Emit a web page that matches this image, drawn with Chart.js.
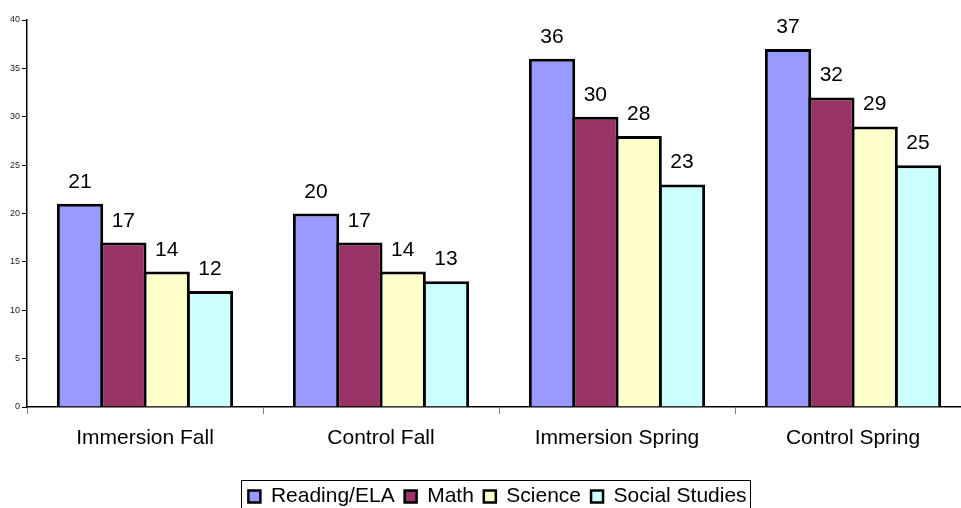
<!DOCTYPE html>
<html>
<head>
<meta charset="utf-8">
<script src="https://cdn.jsdelivr.net/npm/chart.js@4.4.0/dist/chart.umd.min.js"></script>
<style>
html, body { margin: 0; padding: 0; overflow: hidden; background: #fff; }
</style>
</head>
<body>
<canvas id="myChart" width="975" height="517"></canvas>
<script>
let categories = ["Immersion Fall", "Control Fall", "Immersion Spring", "Control Spring"];
let reading = [21, 20, 36, 37];
let math = [17, 17, 30, 32];
let science = [14, 14, 28, 29];
let social = [12, 13, 23, 25];
let yTicks = [0, 5, 10, 15, 20, 25, 30, 35, 40];

const fontFamily = '"Liberation Sans", Arial, sans-serif';
const legendFont = 21, legendPad = 10, legendSwatch = 12;

// numbers above each bar
const valueLabels = {
    id: 'valueLabels',
    afterDatasetsDraw(chart) {
        const ctx = chart.ctx;
        ctx.save();
        ctx.font = '21px ' + fontFamily;
        ctx.fillStyle = '#000';
        ctx.textAlign = 'center';
        ctx.textBaseline = 'alphabetic';
        chart.data.datasets.forEach((ds, i) => {
            chart.getDatasetMeta(i).data.forEach((bar, j) => {
                ctx.fillText(ds.data[j], bar.x, bar.y - 16);
            });
        });
        ctx.restore();
    }
};

// frame round the legend, legend nudged a little to the right
const legendBox = {
    id: 'legendBox',
    afterLayout(chart) {
        chart.legend.left += 12;
        chart.legend.right += 12;
    },
    afterDraw(chart) {
        const lg = chart.legend;
        const ctx = chart.ctx;
        ctx.save();
        ctx.font = legendFont + 'px ' + fontFamily;
        let lineWidth = 0;
        chart.data.datasets.forEach(ds => {
            lineWidth += legendSwatch + legendFont / 2 + ctx.measureText(ds.label).width + legendPad;
        });
        const start = (lg.left + legendPad + lg.right - lineWidth) / 2;
        const itemMid = lg.top + legendPad + legendFont / 2;
        const x1 = Math.round(start - 7) + 0.5;
        const x2 = Math.round(start + lineWidth - legendPad + 3) + 0.5;
        const y1 = Math.round(itemMid - 17) + 0.5;
        ctx.strokeStyle = '#000';
        ctx.lineWidth = 1;
        ctx.strokeRect(x1, y1, x2 - x1, 40);
        ctx.restore();
    }
};

const ctx = document.getElementById('myChart').getContext('2d');
const myChart = new Chart(ctx, {
    type: 'bar',
    data: {
        labels: categories,
        datasets: [
            { label: 'Reading/ELA', data: reading, backgroundColor: '#9999FF' },
            { label: 'Math', data: math, backgroundColor: '#993366' },
            { label: 'Science', data: science, backgroundColor: '#FFFFCC' },
            { label: 'Social Studies', data: social, backgroundColor: '#CCFFFF' }
        ]
    },
    options: {
        responsive: false,
        animation: false,
        datasets: {
            bar: {
                borderColor: '#000',
                borderWidth: 3,
                categoryPercentage: 0.734,
                barPercentage: 1.07
            }
        },
        layout: { padding: { top: 20, left: 0, right: 4, bottom: 0 } },
        plugins: {
            tooltip: { enabled: false },
            legend: {
                position: 'bottom',
                labels: {
                    color: '#000',
                    font: { family: fontFamily, size: legendFont },
                    boxWidth: legendSwatch,
                    boxHeight: legendSwatch,
                    padding: legendPad,
                    generateLabels(chart) {
                        return chart.data.datasets.map((ds, i) => ({
                            text: ds.label,
                            fillStyle: ds.backgroundColor,
                            strokeStyle: '#000',
                            lineWidth: 2.5,
                            datasetIndex: i
                        }));
                    }
                }
            }
        },
        scales: {
            x: {
                grid: { drawOnChartArea: false, offset: true, tickLength: 7, color: '#808080' },
                border: { color: '#000', width: 1.5 },
                ticks: {
                    color: '#000',
                    padding: 12,
                    font: { family: fontFamily, size: 21 }
                },
                afterFit(s) { s.height = 69; }
            },
            y: {
                min: 0,
                max: 40,
                afterBuildTicks(s) { s.ticks = yTicks.map(v => ({ value: v })); },
                grid: { drawOnChartArea: false, tickLength: 5, color: '#000' },
                border: { color: '#000', width: 1.5 },
                ticks: {
                    color: '#222',
                    padding: 2,
                    font: { family: fontFamily, size: 9 }
                },
                afterFit(s) { s.width = 27; }
            }
        }
    },
    plugins: [valueLabels, legendBox]
});
</script>
</body>
</html>
